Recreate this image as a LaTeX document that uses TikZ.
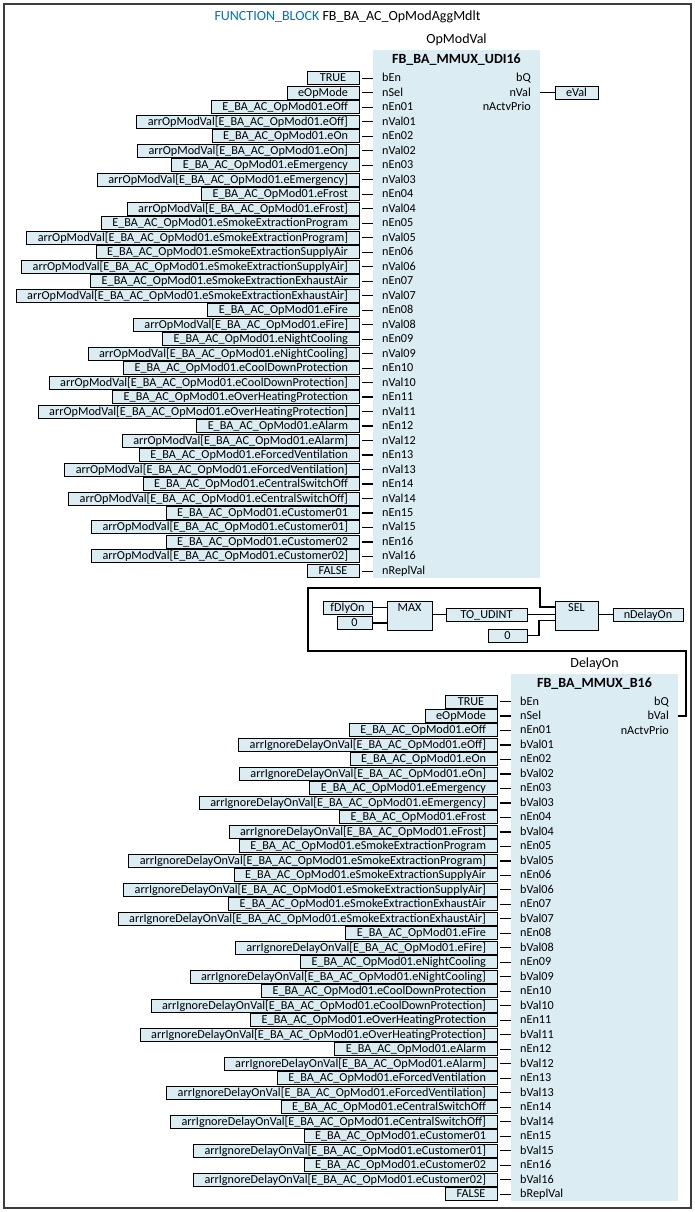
\documentclass[tikz,border=0pt]{standalone}
\usepackage{fontspec}
\setmainfont{Carlito}
\usetikzlibrary{positioning}

\definecolor{blockfill}{RGB}{219,236,243}
\definecolor{kwblue}{RGB}{0,112,192}
\definecolor{framegray}{RGB}{60,60,60}

\newcommand{\opmodes}{eOff,eOn,eEmergency,eFrost,eSmokeExtractionProgram,eSmokeExtractionSupplyAir,eSmokeExtractionExhaustAir,eFire,eNightCooling,eCoolDownProtection,eOverHeatingProtection,eAlarm,eForcedVentilation,eCentralSwitchOff,eCustomer01,eCustomer02}

\tikzset{
  txt/.style={font=\fontsize{12.2}{14}\selectfont, text height=9.5pt, text depth=2.5pt},
  inbox/.style={txt, draw, fill=blockfill, line width=1pt, anchor=east, inner xsep=11pt, inner ysep=0pt, minimum height=13pt, minimum width=52pt},
  valbox/.style={txt, draw, fill=blockfill, line width=1pt, inner sep=0pt, minimum height=13pt},
  opbox/.style={draw, fill=blockfill, line width=1pt, inner sep=0pt, minimum height=29pt},
  oplabel/.style={txt, anchor=north, inner sep=1pt},
  pinl/.style={txt, anchor=west, inner sep=0pt},
  pinr/.style={txt, anchor=east, inner sep=0pt},
  wire/.style={line width=1.2pt},
  inwire/.style={wire, shorten <=2pt},
  caption/.style={font=\fontsize{14}{16}\selectfont},
  fbname/.style={font=\bfseries\fontsize{14}{16}\selectfont}
}

\begin{document}
\begin{tikzpicture}[x=1pt,y=-1pt]
\useasboundingbox (0,0) rectangle (695,1212);
\draw[framegray, line width=2pt] (4,4) rectangle (691,1208);
\node[caption] (title) at (347.5,17) {\textcolor{kwblue}{FUNCTION\_BLOCK} FB\_BA\_AC\_OpModAggMdlt};

% OpModVal : FB_BA_MMUX_UDI16
\fill[blockfill] (373,50) rectangle (540,578);
\coordinate (uL) at (373,0);
\node[caption] (uName) at (456.5,40) {OpModVal};
\node[fbname] (uType) at (456.5,60) {FB\_BA\_MMUX\_UDI16};
\node[inbox] (uTrue) at (359.5,78.3) {TRUE};
\node[pinl] (uEn) at (382,78.3) {bEn};
\node[inbox] (uMode) at (359.5,92.8) {eOpMode};
\node[pinl] (uSel) at (382,92.8) {nSel};
\node[inbox] (uFalse) at (359.5,571.1) {FALSE};
\node[pinl] (uRepl) at (382,571.1) {nReplVal};
\foreach \n in {uTrue,uMode,uFalse}
  \draw[inwire] (\n.east) -- (\n.east -| uL);
\foreach \m [count=\i] in \opmodes {
  \pgfmathsetmacro{\ya}{78.3+28.98*\i}
  \pgfmathsetmacro{\yb}{\ya+14.49}
  \edef\nn{\ifnum\i<10 0\fi\i}
  \node[inbox] (uEnIn\i) at (359.5,\ya) {E\_BA\_AC\_OpMod01.\m};
  \node[inbox] (uValIn\i) at (359.5,\yb) {arrOpModVal[E\_BA\_AC\_OpMod01.\m]};
  \node[pinl] (uEn\i) at (382,\ya) {nEn\nn};
  \node[pinl] (uVal\i) at (382,\yb) {nVal\nn};
  \draw[inwire] (uEnIn\i.east) -- (uEnIn\i.east -| uL);
  \draw[inwire] (uValIn\i.east) -- (uValIn\i.east -| uL);
}
\node[pinr] (uQ) at (531,78.3) {bQ};
\node[pinr] (uOutVal) at (531,92.8) {nVal};
\node[pinr] (uPrio) at (531,107.3) {nActvPrio};
\coordinate (uOut) at (540,92.8);
\node[valbox, minimum width=43pt] (eVal) at (576.5,92.8) {eVal};
\draw[wire] (uOut) -- (eVal.west);

% delay time selection
\node[valbox, minimum width=49pt] (dly) at (347.5,607.5) {fDlyOn};
\node[valbox, minimum width=35pt] (zeroA) at (354.5,623) {0};
\node[opbox, minimum width=45pt, label={[oplabel]north:MAX}] (max) at (409.5,615.5) {};
\node[valbox, minimum width=81pt] (toUdint) at (486.5,614.5) {TO\_UDINT};
\node[valbox, minimum width=39pt] (zeroB) at (507.5,635.5) {0};
\node[opbox, minimum width=43pt, label={[oplabel]north:SEL}] (sel) at (576.5,615.5) {};
\node[valbox, minimum width=70pt] (nDelay) at (648,614.5) {nDelayOn};
\coordinate (selG) at (555,607);
\coordinate (selA) at (555,614.5);
\coordinate (selB) at (555,620.5);
\draw[wire] (dly.east) -- (dly.east -| max.west);
\draw[wire] (zeroA.east) -- (zeroA.east -| max.west);
\draw[wire] (max.east |- toUdint) -- (toUdint.west);
\draw[wire] (toUdint.east) -- (selA);
\draw[wire] (zeroB.east) -| (539,620.5) -- (selB);
\draw[wire] (sel.east |- nDelay) -- (nDelay.west);

% DelayOn : FB_BA_MMUX_B16
\fill[blockfill] (511,674) rectangle (678,1201);
\coordinate (dL) at (511,0);
\node[caption] (dName) at (594.5,664) {DelayOn};
\node[fbname] (dType) at (594.5,684) {FB\_BA\_MMUX\_B16};
\node[inbox] (dTrue) at (497.5,701.5) {TRUE};
\node[pinl] (dEn) at (520,701.5) {bEn};
\node[inbox] (dMode) at (497.5,716) {eOpMode};
\node[pinl] (dSel) at (520,716) {nSel};
\node[inbox] (dFalse) at (497.5,1194.2) {FALSE};
\node[pinl] (dRepl) at (520,1194.2) {bReplVal};
\foreach \n in {dTrue,dMode,dFalse}
  \draw[inwire] (\n.east) -- (\n.east -| dL);
\foreach \m [count=\i] in \opmodes {
  \pgfmathsetmacro{\ya}{701.5+28.98*\i}
  \pgfmathsetmacro{\yb}{\ya+14.49}
  \edef\nn{\ifnum\i<10 0\fi\i}
  \node[inbox] (dEnIn\i) at (497.5,\ya) {E\_BA\_AC\_OpMod01.\m};
  \node[inbox] (dValIn\i) at (497.5,\yb) {arrIgnoreDelayOnVal[E\_BA\_AC\_OpMod01.\m]};
  \node[pinl] (dEn\i) at (520,\ya) {nEn\nn};
  \node[pinl] (dVal\i) at (520,\yb) {bVal\nn};
  \draw[inwire] (dEnIn\i.east) -- (dEnIn\i.east -| dL);
  \draw[inwire] (dValIn\i.east) -- (dValIn\i.east -| dL);
}
\node[pinr] (dQ) at (669,701.5) {bQ};
\node[pinr] (dOutVal) at (669,716) {bVal};
\node[pinr] (dPrio) at (669,730.5) {nActvPrio};
\coordinate (dOut) at (678,716);

% feedback of bVal to SEL
\draw[wire] (dOut) -- (686,716) -- (686,651) -- (308,651) -- (308,588) -- (540,588) -- (540,607) -- (selG);
\end{tikzpicture}
\end{document}
